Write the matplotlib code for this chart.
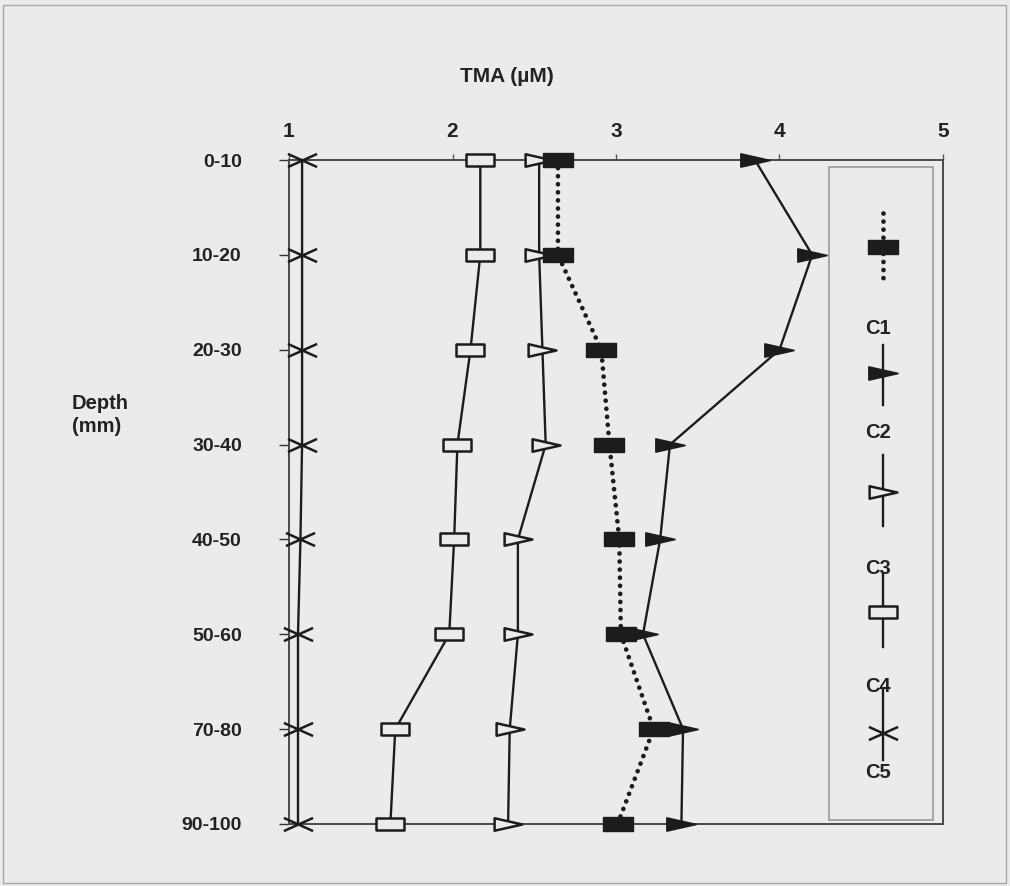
import matplotlib
matplotlib.use("Agg")
import matplotlib.pyplot as plt
from matplotlib.path import Path
from matplotlib.lines import Line2D
from matplotlib.patches import Rectangle

plt.rcParams['font.family'] = ['Liberation Sans', 'DejaVu Sans']
plt.rcParams['font.weight'] = 'bold'

# depth bands (top to bottom) and TMA concentrations per core
depths = ['0-10', '10-20', '20-30', '30-40', '40-50', '50-60', '70-80', '90-100']
c1 = [2.645, 2.645, 2.91, 2.96, 3.02, 3.03, 3.23, 3.01]
c2 = [3.85, 4.20, 4.00, 3.33, 3.27, 3.165, 3.41, 3.40]
c3 = [2.53, 2.53, 2.55, 2.57, 2.40, 2.40, 2.35, 2.34]
c4 = [2.17, 2.17, 2.11, 2.03, 2.01, 1.98, 1.65, 1.62]
c5 = [1.08, 1.08, 1.08, 1.08, 1.07, 1.055, 1.055, 1.055]
x_ticks = [1, 2, 3, 4, 5]

bg = '#ebebeb'
ink = '#1c1c1c'
W, H = 1010, 886

# marker shapes: wide rectangle, right-pointing wedge, flattened cross
rect_m = Path([(-1, -0.45), (1, -0.45), (1, 0.45), (-1, 0.45), (-1, -0.45)],
              [Path.MOVETO, Path.LINETO, Path.LINETO, Path.LINETO, Path.CLOSEPOLY])
tri_m = Path([(-1, -0.45), (1, 0.0), (-1, 0.45), (-1, -0.45)],
             [Path.MOVETO, Path.LINETO, Path.LINETO, Path.CLOSEPOLY])
cross_m = Path([(-1, -0.45), (1, 0.45), (-1, 0.45), (1, -0.45)],
               [Path.MOVETO, Path.LINETO, Path.MOVETO, Path.LINETO])

styles = {
    'C1': dict(ls=(0, (0.01, 1.7)), lw=3.4, dash_capstyle='round', marker=rect_m,
               ms=21, mfc=ink, mec=ink, mew=1.0),
    'C2': dict(ls='-', lw=1.7, marker=tri_m, ms=21, mfc=ink, mec=ink, mew=1.2),
    'C3': dict(ls='-', lw=1.7, marker=tri_m, ms=20, mfc=bg, mec=ink, mew=1.8),
    'C4': dict(ls='-', lw=1.7, marker=rect_m, ms=20, mfc=bg, mec=ink, mew=1.8),
    'C5': dict(ls='-', lw=1.7, marker=cross_m, ms=21, mfc='none', mec=ink, mew=1.8),
}
series = {'C1': c1, 'C2': c2, 'C3': c3, 'C4': c4, 'C5': c5}

fig = plt.figure(figsize=(W / 100, H / 100), dpi=100, facecolor=bg)
ax = fig.add_axes([289 / W, 1 - 824 / H, (943 - 289) / W, (824 - 160) / H])
ax.set_facecolor(bg)

ypos = list(range(len(depths)))
for name in ['C5', 'C4', 'C3', 'C1', 'C2']:
    ax.plot(series[name], ypos, color=ink, clip_on=False, zorder=3, **styles[name])

ax.set_xlim(1, 5)
ax.set_ylim(len(depths) - 1, 0)
ax.set_xticks(x_ticks)
ax.set_yticks(ypos)
ax.set_yticklabels(depths)
ax.xaxis.tick_top()
ax.tick_params(axis='x', direction='out', length=4, width=1, color='#555555',
               labelsize=15, pad=10, labelcolor='#222222')
ax.tick_params(axis='y', direction='out', length=7, width=1, color='#333333',
               labelsize=14, pad=27, labelcolor='#222222')
for s in ax.spines.values():
    s.set_color('#4a4a4a')
    s.set_linewidth(1.4)

ax.set_title('TMA (\u00b5M)', fontsize=15, fontweight='bold', color='#222222',
             x=(507 - 289) / (943 - 289), pad=56)
fig.text(72 / W, 1 - 415 / H, 'Depth\n(mm)', fontsize=14.5, fontweight='bold',
         color='#222222', ha='left', va='center', linespacing=1.25)


def fxy(px, py):
    return px / W, 1 - py / H


# legend panel
lx0, ly0 = fxy(829, 820)
lx1, ly1 = fxy(933, 167)
fig.add_artist(Rectangle((lx0, ly0), lx1 - lx0, ly1 - ly0, transform=fig.transFigure,
                         facecolor='none', edgecolor='#9a9a9a', lw=1.2, zorder=4))

legend_items = [
    ('C1', 213, 280, 247, 328),
    ('C2', 345, 405, 373, 432),
    ('C3', 455, 526, 492, 568),
    ('C4', 574, 647, 612, 686),
    ('C5', 690, 760, 733, 773),
]
lcx = 883
for name, top, bot, mid, lab_y in legend_items:
    st = dict(styles[name])
    marker = st.pop('marker')
    ms, mfc, mec, mew = st.pop('ms'), st.pop('mfc'), st.pop('mec'), st.pop('mew')
    x0, y0 = fxy(lcx, top)
    _, y1 = fxy(lcx, bot)
    fig.add_artist(Line2D([x0, x0], [y0, y1], color=ink, transform=fig.transFigure,
                          zorder=5, **st))
    _, ym = fxy(lcx, mid)
    fig.add_artist(Line2D([x0], [ym], ls='none', marker=marker, ms=ms, mfc=mfc,
                          mec=mec, mew=mew, transform=fig.transFigure, zorder=6))
    tx, ty = fxy(878, lab_y)
    fig.text(tx, ty, name, fontsize=14.5, fontweight='bold', color='#222222',
             ha='center', va='center', zorder=7)

# thin page border
bx0, by0 = fxy(3, 883)
bx1, by1 = fxy(1006, 5)
fig.add_artist(Rectangle((bx0, by0), bx1 - bx0, by1 - by0, transform=fig.transFigure,
                         facecolor='none', edgecolor='#a8a8a8', lw=1.0))

fig.savefig('out.png', dpi=100, facecolor=bg)
